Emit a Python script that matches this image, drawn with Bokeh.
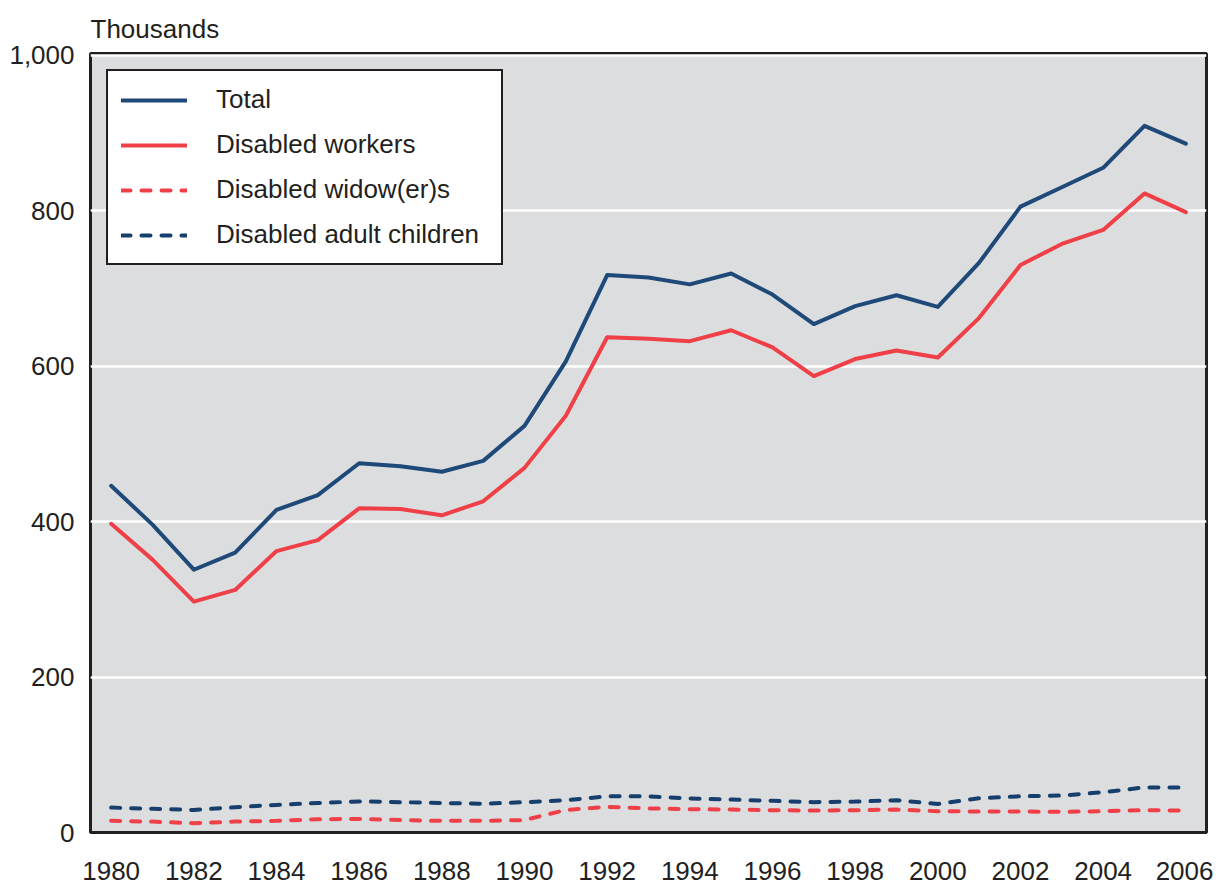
from bokeh.plotting import figure
from bokeh.models import Legend, LegendItem, FixedTicker, NumeralTickFormatter, Range1d, BasicTickFormatter
from bokeh.embed import file_html
from bokeh.resources import INLINE

years = list(range(1980, 2007))
total = [446, 396, 338, 360, 415, 434, 475, 471, 464, 478, 523, 606, 717, 714,
         705, 719, 692, 654, 677, 691, 676, 733, 805, 830, 855, 909, 886]
workers = [397, 351, 297, 312, 362, 376, 417, 416, 408, 426, 469, 536, 637, 635,
           632, 646, 624, 587, 609, 620, 611, 662, 730, 757, 775, 822, 798]
widows = [15, 14, 12, 14, 15, 17, 17.5, 16, 15, 15, 16, 29, 33, 31,
          30, 29.5, 28.7, 28.3, 28.7, 29.5, 27.4, 27, 27, 26.6, 27.4, 28.7, 28.3]
children = [32, 30.5, 29, 32.5, 35.5, 38, 40, 39, 38, 37, 39, 41.5, 46.5, 46.5,
            43.7, 42.4, 40.7, 39, 39.8, 41.5, 36.6, 44, 46.6, 47.5, 51.8, 58, 58]

series_names = ["Total", "Disabled workers", "Disabled widow(er)s", "Disabled adult children"]
y_ticks = [0, 200, 400, 600, 800, 1000]
x_ticks = years[::2]

BLUE = "#1F4979"
RED = "#EF4048"
DBLUE = "#173F6E"
TXT = "#231F20"
FONT = "Liberation Sans"

p = figure(width=1213, height=888, output_backend="svg", toolbar_location=None,
           x_range=Range1d(1979.5, 2006.5), y_range=Range1d(0, 1002),
           min_border_left=90, min_border_right=7, min_border_top=53, min_border_bottom=56,
           background_fill_color="#DCDDDF", border_fill_color="white",
           outline_line_color=TXT, outline_line_width=3)

p.title.text = "Thousands"
p.title.text_font = FONT
p.title.text_font_size = "26px"
p.title.text_font_style = "normal"
p.title.text_color = TXT
p.title.align = "left"
p.title.standoff = 20

r_total = p.line(years, total, line_color=BLUE, line_width=4, line_join="round", line_cap="round")
r_work = p.line(years, workers, line_color=RED, line_width=4, line_join="round", line_cap="round")
r_wid = p.line(years, widows, line_color=RED, line_width=4, line_dash="9 11", line_cap="round")
r_chi = p.line(years, children, line_color=DBLUE, line_width=4, line_dash="9 11", line_cap="round")

for ax in (p.xaxis[0], p.yaxis[0]):
    ax.axis_line_color = None
    ax.major_tick_line_color = None
    ax.minor_tick_line_color = None
    ax.major_tick_out = 0
    ax.major_tick_in = 0
    ax.major_label_text_font = FONT
    ax.major_label_text_font_size = "26px"
    ax.major_label_text_color = TXT

p.xaxis.ticker = FixedTicker(ticks=x_ticks)
p.xaxis.formatter = BasicTickFormatter(use_scientific=False)
p.xaxis.major_label_standoff = 29
p.yaxis.ticker = FixedTicker(ticks=y_ticks)
p.yaxis.formatter = NumeralTickFormatter(format="0,0")
p.yaxis.major_label_standoff = 16

p.xgrid.visible = False
p.ygrid.ticker = FixedTicker(ticks=y_ticks)
p.ygrid.grid_line_color = "white"
p.ygrid.grid_line_width = 2.5

legend = Legend(items=[LegendItem(label=n, renderers=[r]) for n, r in
                       zip(series_names, [r_total, r_work, r_wid, r_chi])],
                location="top_left", margin=16, padding=13, spacing=14,
                glyph_width=66, glyph_height=26, label_height=26, label_standoff=29,
                label_width=272,
                label_text_font=FONT, label_text_font_size="26px", label_text_color=TXT,
                border_line_color=TXT, border_line_width=2.5, border_line_alpha=1.0,
                background_fill_color="white", background_fill_alpha=1.0)
p.add_layout(legend)

open("out.html", "w").write(file_html(p, INLINE))
